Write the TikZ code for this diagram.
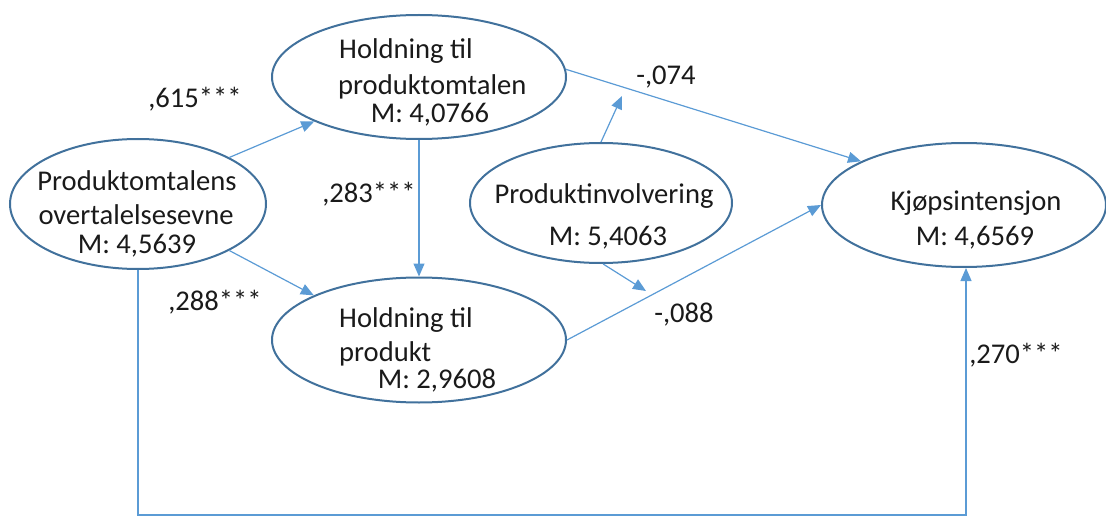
\documentclass[tikz,border=0pt]{standalone}
\usepackage{fontspec}
\setmainfont{Carlito}
\usetikzlibrary{arrows.meta,shapes.geometric,calc}
\definecolor{ellline}{HTML}{41719C}
\definecolor{arrline}{HTML}{5B9BD5}
\definecolor{txt}{HTML}{1A1A1A}
\begin{document}
\begin{tikzpicture}[x=1pt,y=-1pt,
  construct/.style={ellipse, draw=ellline, line width=2pt, inner sep=0pt},
  link/.style={draw=arrline, line width=1.2pt, -{Triangle[length=13pt,width=11pt]}},
  lbl/.style={anchor=base, inner sep=0pt, text=txt, font=\fontsize{28.6pt}{34pt}\selectfont},
  lblw/.style={lbl, anchor=base west}
]
\useasboundingbox (0,0) rectangle (1106,516);

% constructs
\node[construct, minimum width=256pt, minimum height=130pt] (A) at (138,204) {};
\node[construct, minimum width=294pt, minimum height=124pt] (B) at (419,77) {};
\node[construct, minimum width=262pt, minimum height=120pt] (C) at (601,203) {};
\node[construct, minimum width=284pt, minimum height=124pt] (D) at (964,205) {};
\node[construct, minimum width=294pt, minimum height=125pt] (E) at (419,340) {};

% construct texts
\node[lbl] (a1) at (137,190) {Produktomtalens};
\node[lbl] (a2) at (136,224) {overtalelsesevne};
\node[lbl] (a3) at (137,253) {M: 4,5639};

\node[lblw] (b1) at (339,59) {Holdning til};
\node[lblw] (b2) at (338,95) {produktomtalen};
\node[lbl] (b3) at (430,123) {M: 4,0766};

\node[lbl] (c1) at (604,204) {Produktinvolvering};
\node[lbl] (c2) at (608,245) {M: 5,4063};

\node[lbl] (d1) at (976,211) {Kjøpsintensjon};
\node[lbl] (d2) at (975,245) {M: 4,6569};

\node[lblw] (e1) at (339,327) {Holdning til};
\node[lblw] (e2) at (339,361) {produkt};
\node[lbl] (e3) at (437,388) {M: 2,9608};

% path coefficients
\node[lbl] (p1) at (195,108) {,615***};
\node[lbl] (p2) at (369,202) {,283***};
\node[lbl] (p3) at (215,310) {,288***};
\node[lbl] (p4) at (666,85) {-,074};
\node[lbl] (p5) at (684,322) {-,088};
\node[lbl] (p6) at (1016,363) {,270***};

% moderator targets and the bottom route
\coordinate (m1) at (622,96);
\coordinate (m2) at (646,291);
\coordinate (base) at (0,515);

% connectors
\draw[link] (A.27) -- (B.203);
\draw[link] (B.south) -- (E.north);
\draw[link] (A.-27) -- (E.157);
\draw[link] (B.3) -- (D.157);
\draw[link] (C.north) -- (m1);
\draw[link] (E.east) -- (D.west);
\draw[link] (C.-88) -- (m2);
\draw[link] (A.south) -- (A.south |- base) -| ([xshift=2pt]D.south);
\end{tikzpicture}
\end{document}
